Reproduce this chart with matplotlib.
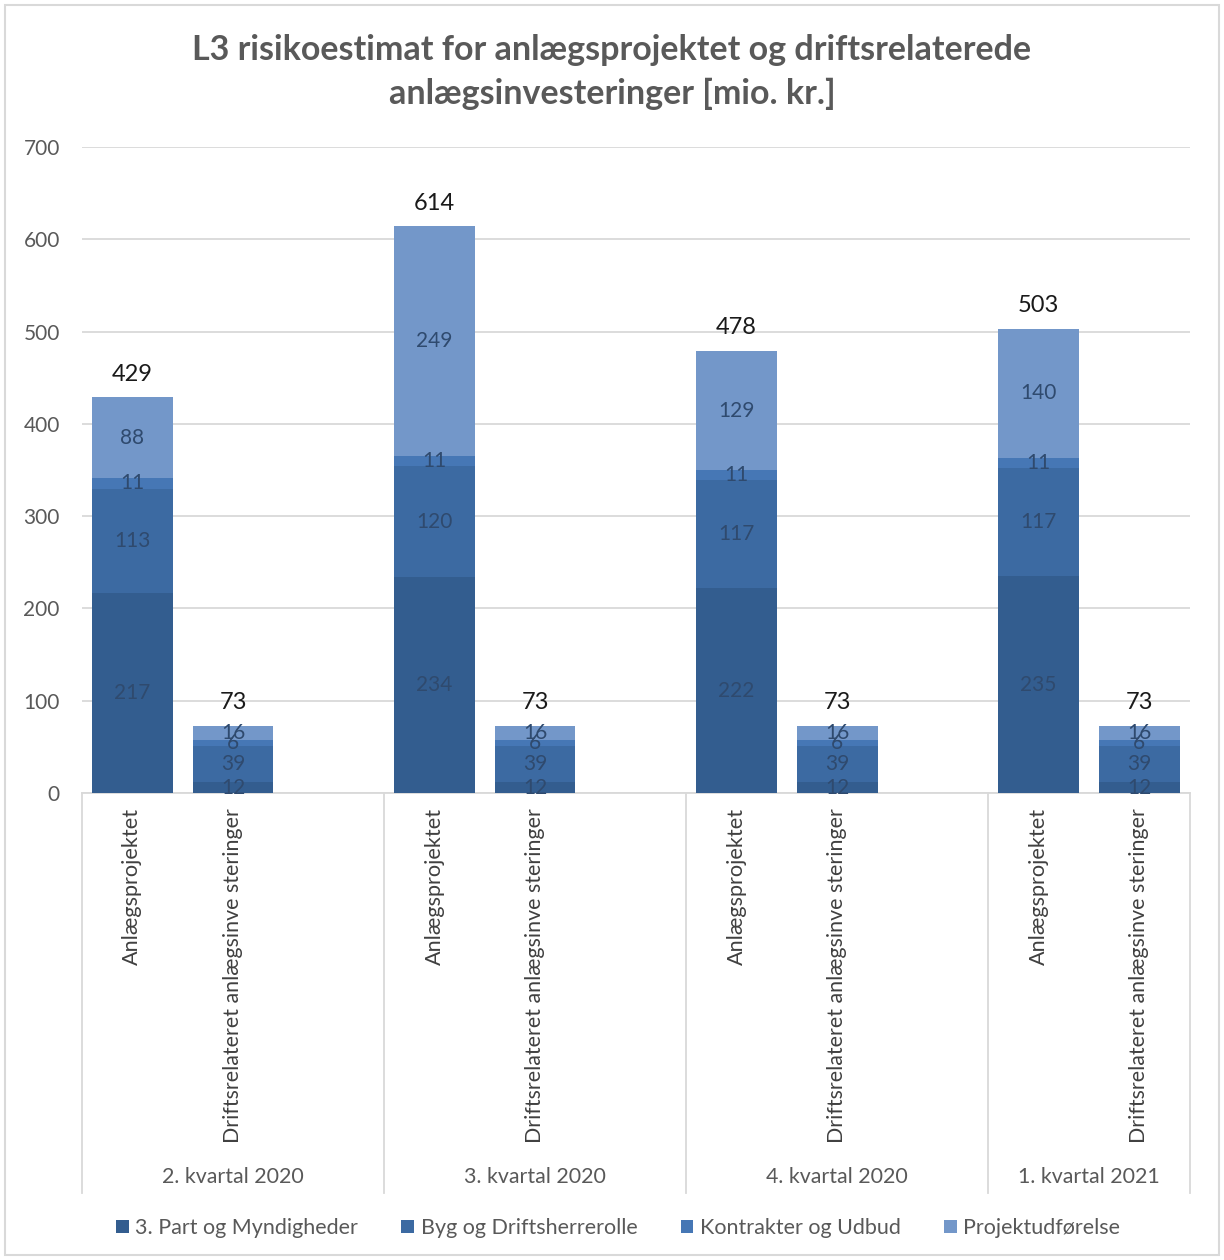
import numpy as np
import matplotlib.pyplot as plt
from matplotlib.patches import Rectangle
import matplotlib.transforms as mtransforms

plt.rcParams['font.family'] = ['Lato', 'DejaVu Sans']

quarters = ["2. kvartal 2020", "3. kvartal 2020", "4. kvartal 2020", "1. kvartal 2021"]
projects = ["Anlægsprojektet", "Driftsrelateret anlægsinve steringer"]

series = ["3. Part og Myndigheder", "Byg og Driftsherrerolle", "Kontrakter og Udbud", "Projektudførelse"]
# per bar: Anlæg Q2, Drift Q2, Anlæg Q3, Drift Q3, ...
part = [217, 12, 234, 12, 222, 12, 235, 12]
byg = [113, 39, 120, 39, 117, 39, 117, 39]
kontrakt = [11, 6, 11, 6, 11, 6, 11, 6]
projekt = [88, 16, 249, 16, 129, 16, 140, 16]
totals = [429, 73, 614, 73, 478, 73, 503, 73]

colors = ["#335d8f", "#3c6aa2", "#4677b5", "#7397c9"]
label_col = "#2f4a6e"
grey = "#595959"

# slot positions: each quarter has an empty third slot except the last
xpos = [0, 1, 3, 4, 6, 7, 9, 10]
group_edges = [-0.5, 2.5, 5.5, 8.5, 10.5]

fig = plt.figure(figsize=(12.24, 12.6), dpi=100)
ax = fig.add_axes([0.067, 0.3706, 0.905, 0.5127])

bottom = np.zeros(len(xpos))
for name, vals, c in zip(series, [part, byg, kontrakt, projekt], colors):
    vals = np.array(vals, dtype=float)
    ax.bar(xpos, vals, 0.8, bottom=bottom, color=c, label=name, zorder=3)
    for x, b, v in zip(xpos, bottom, vals):
        ax.text(x, b + v / 2, f"{v:.0f}", ha="center", va="center",
                fontsize=15, color=label_col, zorder=4)
    bottom += vals

for x, top, t in zip(xpos, bottom, totals):
    ax.annotate(str(t), (x, top), xytext=(0, 9), textcoords="offset points",
                ha="center", va="bottom", fontsize=17, color="#1a1a1a")

ax.set_xlim(-0.5, 10.5)
ax.set_ylim(0, 700)
ax.set_yticks(range(0, 701, 100))
ax.tick_params(axis="y", length=0, labelsize=15, labelcolor=grey, pad=16)
ax.set_xticks([])
ax.grid(axis="y", color="#d9d9d9", linewidth=1.3, zorder=0)
for s in ["top", "right", "left"]:
    ax.spines[s].set_visible(False)
ax.spines["bottom"].set_color("#d9d9d9")
ax.spines["bottom"].set_linewidth(1.3)

trans = mtransforms.blended_transform_factory(ax.transData, ax.transAxes)
sep_bottom = -400 / 646
for e in group_edges:
    ax.plot([e, e], [0, sep_bottom], transform=trans, color="#d9d9d9",
            linewidth=1.3, clip_on=False)

for i, q in enumerate(quarters):
    gx = xpos[2 * i]
    ax.text(gx, -0.023, projects[0], transform=trans, rotation=90,
            ha="center", va="top", fontsize=15.6, color="#404040")
    ax.text(gx + 1, -0.023, projects[1], transform=trans, rotation=90,
            ha="center", va="top", fontsize=15.4, color="#404040")
    mid = (group_edges[i] + group_edges[i + 1]) / 2
    ax.text(mid, -0.594, q, transform=trans, ha="center", va="center",
            fontsize=15.4, color=grey)

fig.text(0.5, 0.943, "L3 risikoestimat for anlægsprojektet og driftsrelaterede\nanlægsinvesteringer [mio. kr.]",
         ha="center", va="center", fontsize=24.5, fontweight="bold", color=grey,
         linespacing=1.45)

fig.legend(loc="center", bbox_to_anchor=(0.505, 0.0254), ncol=4, frameon=False,
           fontsize=15.5, labelcolor=grey, handlelength=0.6, handleheight=0.6,
           handletextpad=0.3, columnspacing=2.0)

fig.patches.append(Rectangle((0.004, 0.004), 0.992, 0.992, transform=fig.transFigure,
                             fill=False, edgecolor="#d9d9d9", linewidth=1.5))

fig.savefig("out.png", dpi=100)
